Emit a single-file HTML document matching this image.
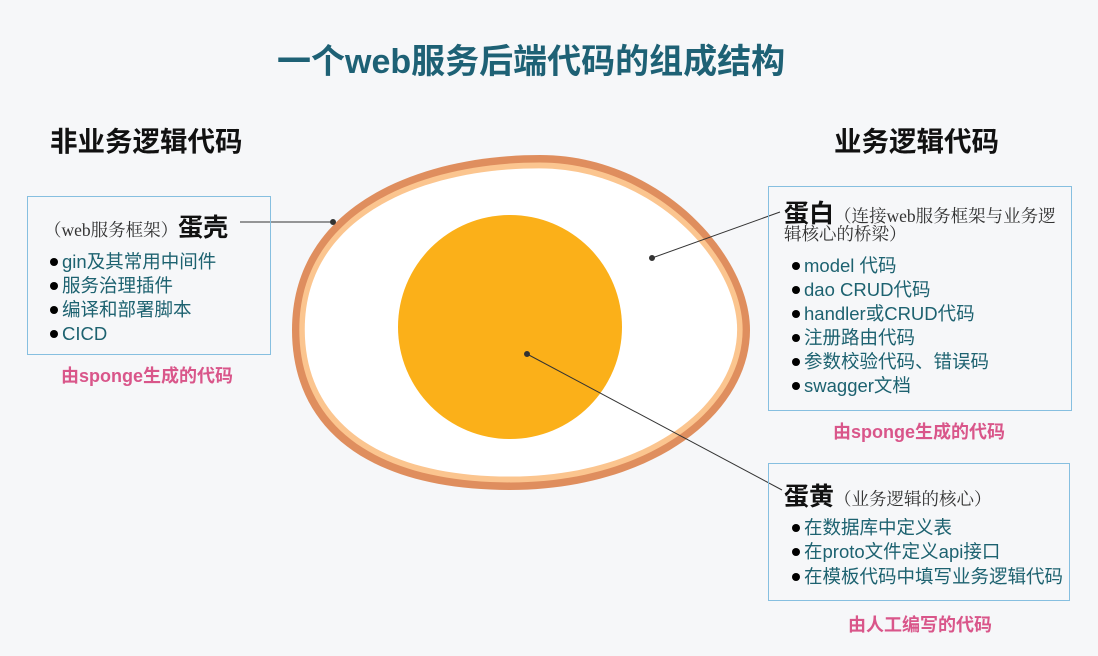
<!DOCTYPE html>
<html><head><meta charset="utf-8"><style>
body{margin:0;width:1098px;height:656px;background:#f6f7f9;position:relative;overflow:hidden;font-family:"Liberation Sans","Noto Sans CJK SC",sans-serif}
.a{position:absolute;white-space:nowrap}
.t{color:#1e6175;font-weight:bold;font-size:34px}
.h{color:#111;font-weight:bold;font-size:27.5px}
.box{position:absolute;border:1.5px solid #86bfe0}
.it{position:absolute;font-size:18.5px;color:#1d6270;line-height:24px;white-space:nowrap}
.it::before{content:"";position:absolute;left:-12px;top:8px;width:8px;height:8px;border-radius:50%;background:#000}
.pk{color:#d9568a;font-weight:bold;font-size:18px}
.sf{font-family:"Liberation Serif","Noto Serif CJK SC",serif;font-size:17.5px;color:#333}
.bk{font-weight:bold;font-size:25px;color:#111}
</style></head><body>
<svg class="a" style="left:0;top:0" width="1098" height="656">
<defs><path id="e" d="M292,330 C292,205 420,155 540,155 C660,155 750,255 750,330 C750,415 650,490 510,490 C370,490 292,430 292,330 Z"/></defs>
<use href="#e" fill="#df8e5e"/>
<use href="#e" fill="#fbc58f" transform="translate(520,322) scale(0.968,0.955) translate(-520,-322)"/>
<use href="#e" fill="#ffffff" transform="translate(520,322) scale(0.944,0.92) translate(-520,-322)"/>
<circle cx="510" cy="327" r="112" fill="#fbb019"/>
<g stroke="#333" stroke-width="1" fill="#333">
<line x1="240" y1="222" x2="333" y2="222"/><circle cx="333" cy="222" r="2.5"/>
<line x1="780" y1="212" x2="652" y2="258"/><circle cx="652" cy="258" r="2.5"/>
<line x1="527" y1="354" x2="782" y2="490"/><circle cx="527" cy="354" r="2.5"/>
</g></svg>
<div class="a t" style="left:277px;top:34px">一个web服务后端代码的组成结构</div>
<div class="a h" style="left:50px;top:119px">非业务逻辑代码</div>
<div class="a h" style="left:834px;top:119px">业务逻辑代码</div>

<div class="box" style="left:27px;top:196px;width:242px;height:157px"></div>
<div class="a" style="left:44px;top:208px"><span class="sf">（web服务框架）</span><span class="bk">蛋壳</span></div>
<div class="it" style="left:62px;top:250px">gin及其常用中间件</div>
<div class="it" style="left:62px;top:274px">服务治理插件</div>
<div class="it" style="left:62px;top:298px">编译和部署脚本</div>
<div class="it" style="left:62px;top:322px">CICD</div>
<div class="a pk" style="left:61px;top:362px">由sponge生成的代码</div>

<div class="box" style="left:768px;top:186px;width:302px;height:223px"></div>
<div class="a" style="left:784px;top:194px"><span class="bk">蛋白</span><span class="sf">（连接web服务框架与业务逻</span></div>
<div class="a sf" style="left:784px;top:221px">辑核心的桥梁）</div>
<div class="it" style="left:804px;top:254px">model 代码</div>
<div class="it" style="left:804px;top:278px">dao CRUD代码</div>
<div class="it" style="left:804px;top:302px">handler或CRUD代码</div>
<div class="it" style="left:804px;top:326px">注册路由代码</div>
<div class="it" style="left:804px;top:350px">参数校验代码、错误码</div>
<div class="it" style="left:804px;top:374px">swagger文档</div>
<div class="a pk" style="left:833px;top:418px">由sponge生成的代码</div>

<div class="box" style="left:768px;top:463px;width:300px;height:136px"></div>
<div class="a" style="left:784px;top:477px"><span class="bk">蛋黄</span><span class="sf">（业务逻辑的核心）</span></div>
<div class="it" style="left:804px;top:516px">在数据库中定义表</div>
<div class="it" style="left:804px;top:540px">在proto文件定义api接口</div>
<div class="it" style="left:804px;top:565px">在模板代码中填写业务逻辑代码</div>
<div class="a pk" style="left:848px;top:611px">由人工编写的代码</div>
</body></html>
